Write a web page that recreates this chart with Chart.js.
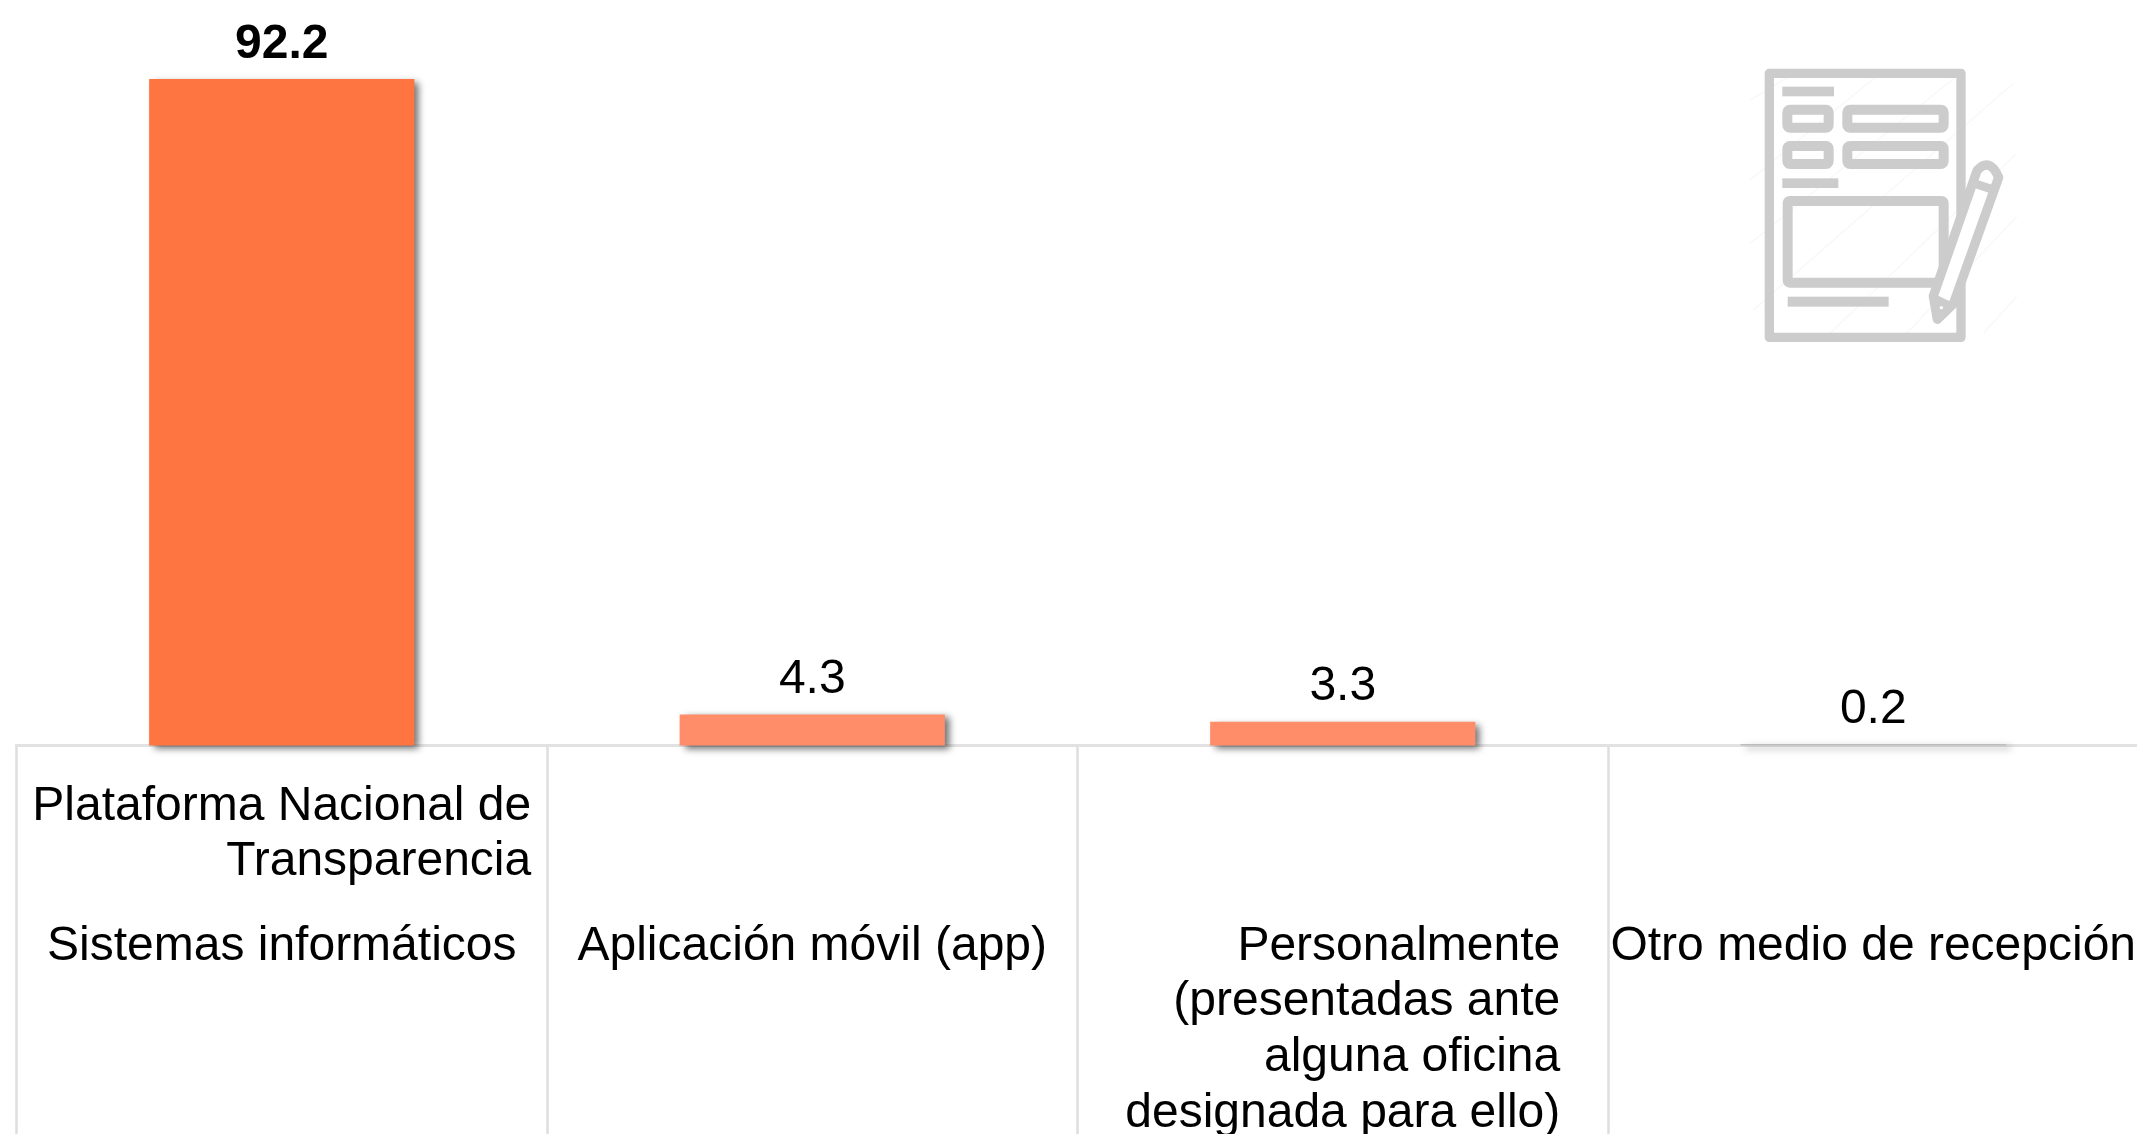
<!DOCTYPE html>
<html>
<head>
<meta charset="utf-8">
<style>
  html, body { margin:0; padding:0; background:#fff; overflow:hidden; width:2137px; height:1134px; }
  #wrap { position:relative; width:2137px; height:1134px; overflow:hidden; }
  #chart { position:absolute; left:0; top:0; }
  #icon { position:absolute; left:1720px; top:40px; width:320px; height:320px; filter:blur(0.6px); }
</style>
<script src="https://cdn.jsdelivr.net/npm/chart.js@4"></script>
</head>
<body>
<div id="wrap">
  <canvas id="chart" width="2140" height="1134"></canvas>
  <svg id="icon" viewBox="0 0 960 960">
    <g stroke="#f9f9f9" stroke-width="5" fill="none">
      <path d="M90 180 L240 90 M90 420 L480 100 M90 610 L720 100 M100 810 L880 130 M330 880 L890 340 M560 880 L890 530 M790 880 L890 770"/>
    </g>
    <g stroke="#cccccc" fill="none" stroke-linejoin="round">
      <rect x="148" y="100" width="575" height="792" stroke-width="28"/>
      <rect x="202" y="209" width="124" height="54" rx="8" stroke-width="30"/>
      <rect x="382" y="209" width="289" height="54" rx="8" stroke-width="30"/>
      <rect x="202" y="318" width="124" height="54" rx="8" stroke-width="30"/>
      <rect x="382" y="318" width="289" height="54" rx="8" stroke-width="30"/>
      <rect x="203" y="483" width="468" height="245" rx="6" stroke-width="30"/>
    </g>
    <g fill="#cccccc">
      <rect x="187" y="140" width="155" height="29"/>
      <rect x="187" y="415" width="168" height="29"/>
      <rect x="203" y="770" width="303" height="30"/>
    </g>
    <path d="M771 392 Q808 350 836 412 L700 792 L652 838 L640 768 Z" fill="#fff" stroke="#cccccc" stroke-width="28" stroke-linejoin="round"/>
    <path d="M768 432 L828 452" stroke="#cccccc" stroke-width="26"/>
    <path d="M650 765 L702 790 L650 842 Z" fill="#cccccc"/>
    <circle cx="800" cy="408" r="15" fill="#fff"/>
    <circle cx="664" cy="803" r="5" fill="#fff"/>
  </svg>
</div>
<script>
// datos
const categories = ['Sistemas informáticos', 'Aplicación móvil (app)', 'Personalmente|(presentadas ante|alguna oficina|designada para ello)', 'Otro medio de recepción'];
const upperLabels = ['Plataforma Nacional de|Transparencia', '', '', ''];
const values = [92.2, 4.3, 3.3, 0.2];
const barColors = ['#FF7542', '#FF8D69', '#FF8D69', '#BDBDBD'];

const FONT = '"Liberation Sans", Arial, sans-serif';
const LINE = 55.7;

function drawBlock(ctx, text, cx, y) {
  const lines = text.split('|');
  const w = Math.max(...lines.map(l => ctx.measureText(l).width));
  lines.forEach((l, i) => ctx.fillText(l, cx + w / 2, y + i * LINE));
}

// sombra de las barras
const barShadow = {
  id: 'barShadow',
  beforeDatasetsDraw(chart) {
    const ctx = chart.ctx;
    ctx.save();
    ctx.shadowColor = 'rgba(0,0,0,0.55)';
    ctx.shadowBlur = 7;
    ctx.shadowOffsetX = 5;
    ctx.shadowOffsetY = 3;
  },
  afterDatasetsDraw(chart) {
    chart.ctx.restore();
  }
};

// etiquetas de valor y de categoria
const textLabels = {
  id: 'textLabels',
  afterDraw(chart) {
    const ctx = chart.ctx;
    const x = chart.scales.x;
    const y = chart.scales.y;
    ctx.save();
    ctx.fillStyle = '#000';
    ctx.textBaseline = 'middle';
    ctx.textAlign = 'center';
    values.forEach((v, i) => {
      ctx.font = (i === 0 ? 'bold ' : '') + '48px ' + FONT;
      ctx.fillText(v.toFixed(1), x.getPixelForValue(i), y.getPixelForValue(v) - 34.5);
    });
    ctx.font = '48px ' + FONT;
    ctx.textAlign = 'right';
    const base = y.getPixelForValue(0);
    categories.forEach((c, i) => {
      const cx = x.getPixelForValue(i);
      if (upperLabels[i]) drawBlock(ctx, upperLabels[i], cx, base + 61);
      drawBlock(ctx, c, cx, base + 201);
    });
    ctx.restore();
  }
};

new Chart(document.getElementById('chart').getContext('2d'), {
  type: 'bar',
  data: {
    labels: categories,
    datasets: [{
      data: values,
      backgroundColor: barColors,
      borderWidth: 0,
      categoryPercentage: 1,
      barPercentage: 0.5,
      clip: false
    }]
  },
  plugins: [barShadow, textLabels],
  options: {
    responsive: false,
    animation: false,
    layout: { padding: { left: 16.5, right: 1.5, top: 22.5, bottom: 0 } },
    plugins: { legend: { display: false }, tooltip: { enabled: false } },
    scales: {
      x: {
        afterFit(scale) { scale.height = 388.5; },
        border: { color: '#e2e2e2', width: 3 },
        grid: { drawOnChartArea: false, drawTicks: true, tickLength: 389, tickColor: '#dedede', tickWidth: 2.5 },
        ticks: { display: false, autoSkip: false }
      },
      y: { display: false, min: 0, max: 100 }
    }
  }
});
</script>
</body>
</html>
